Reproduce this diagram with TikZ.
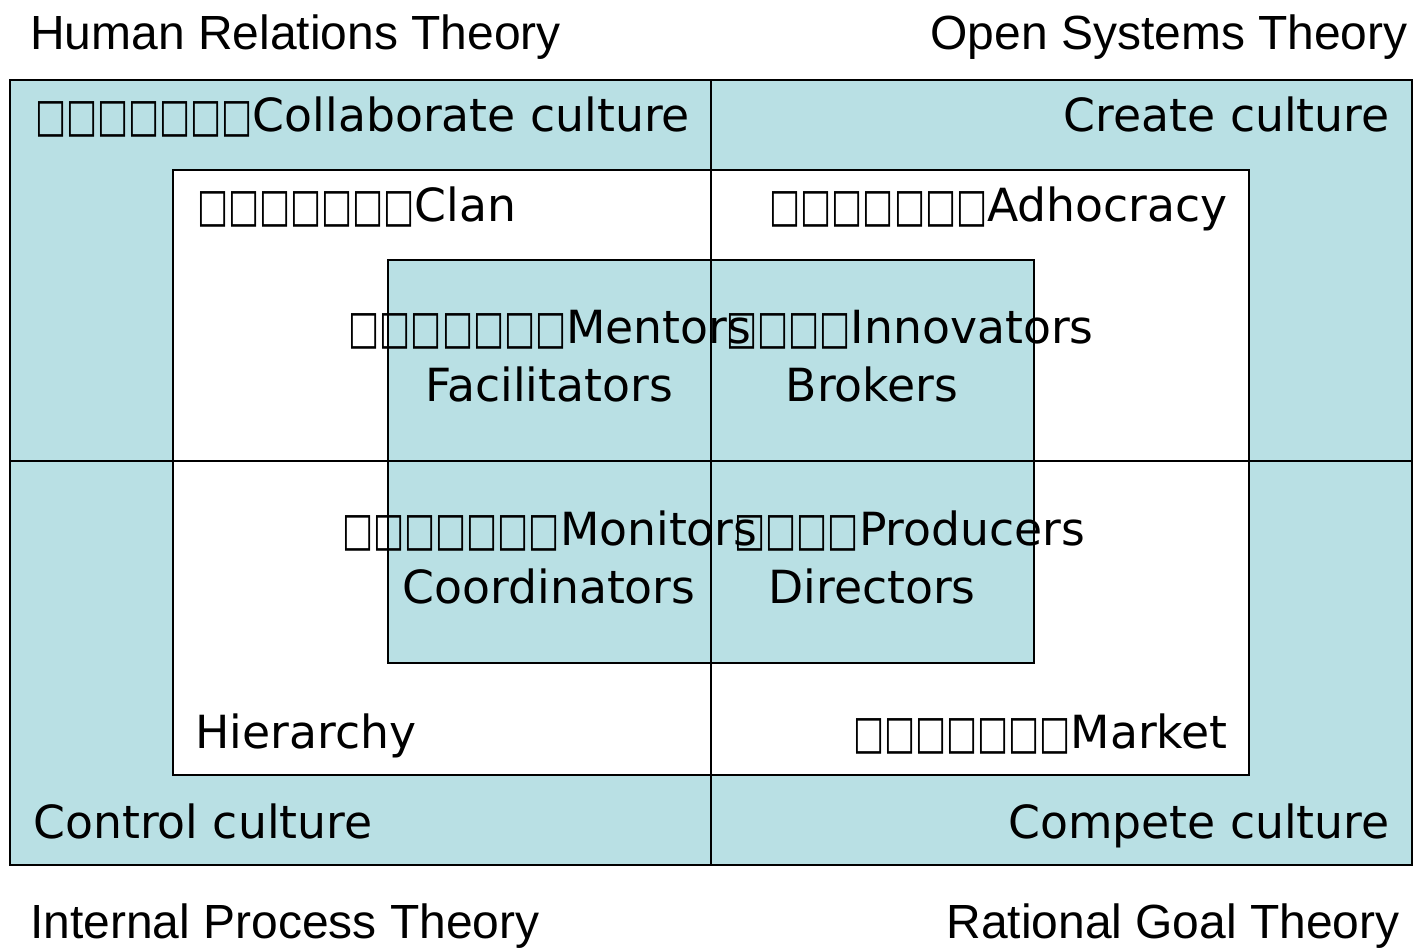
\documentclass[tikz,border=0pt]{standalone}
\usepackage{fontspec}
\setmainfont{DejaVu Sans}
\newfontfamily\theoryfont{Liberation Sans}
\usetikzlibrary{positioning}
\definecolor{quadfill}{RGB}{185,224,228}
\newcommand{\tofu}{\scalebox{0.72}[1.02]{□}}
\newcommand{\tofurow}[1]{\foreach \i in {1,...,#1}{\tofu}}

\begin{document}
\begin{tikzpicture}[x=0.02cm,y=-0.02cm]
\tikzset{
	theory node/.style = {font=\theoryfont\fontsize{27.3}{32}\selectfont, inner sep=0},
	culture node/.style = {font=\fontsize{26}{30}\selectfont, inner sep=0},
	frame line/.style = {draw, line width=0.8pt},
}
\useasboundingbox (0,0) rectangle (1415,951);

% three nested frames and the two axes
\draw[frame line, fill=quadfill] (10,80) rectangle (1412,865);
\draw[frame line, fill=white] (173,170) rectangle (1249,775);
\draw[frame line, fill=quadfill] (388,260) rectangle (1034,663);
\coordinate (top) at (711,80);
\coordinate (bottom) at (711,865);
\coordinate (left) at (10,461);
\coordinate (right) at (1412,461);
\draw[frame line] (top) -- (bottom);
\draw[frame line] (left) -- (right);

% theories
\node(hrt)[theory node, anchor=base west] at (30,49) {Human Relations Theory};
\node(ost)[theory node, anchor=base east] at (1408,49) {Open Systems Theory};
\node(ipt)[theory node, anchor=base west] at (30,938) {Internal Process Theory};
\node(rgt)[theory node, anchor=base east] at (1400,938) {Rational Goal Theory};

% cultures
\node(collab)[culture node, anchor=base west] at (35,131) {\tofurow{7}Collaborate culture};
\node(create)[culture node, anchor=base east] at (1390,131) {Create culture};
\node(control)[culture node, anchor=base west] at (33,838) {Control culture};
\node(compete)[culture node, anchor=base east] at (1390,838) {Compete culture};

% organisation types
\node(clan)[culture node, anchor=base west] at (197,221) {\tofurow{7}Clan};
\node(adhoc)[culture node, anchor=base east] at (1228,221) {\tofurow{7}Adhocracy};
\node(hier)[culture node, anchor=base west] at (195,748) {Hierarchy};
\node(market)[culture node, anchor=base east] at (1228,748) {\tofurow{7}Market};

% roles
\node(mentors)[culture node, anchor=base] at (550,343) {\tofurow{7}Mentors};
\node(facil)[culture node, anchor=base] at (549,401) {Facilitators};
\node(innov)[culture node, anchor=base] at (910,343) {\tofurow{4}Innovators};
\node(brokers)[culture node, anchor=base] at (872,401) {Brokers};
\node(monit)[culture node, anchor=base] at (550,545) {\tofurow{7}Monitors};
\node(coord)[culture node, anchor=base] at (549,603) {Coordinators};
\node(produc)[culture node, anchor=base] at (910,545) {\tofurow{4}Producers};
\node(direc)[culture node, anchor=base] at (872,603) {Directors};
\end{tikzpicture}
\end{document}
